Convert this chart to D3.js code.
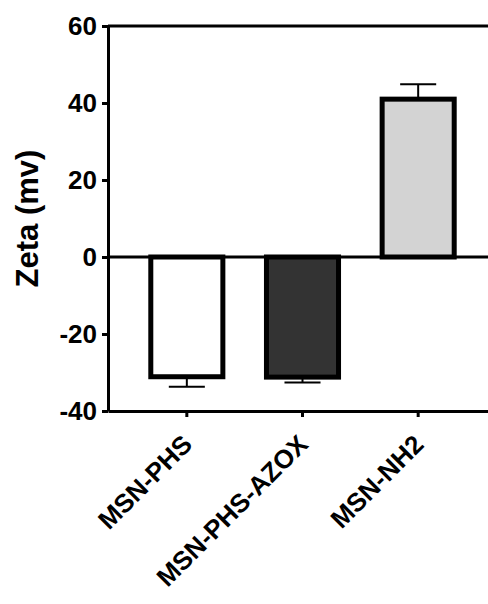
<!DOCTYPE html>
<html>
<head>
<meta charset="utf-8">
<script src="https://cdn.jsdelivr.net/npm/d3@7"></script>
<style>
  body { margin: 0; background: #fff; }
  svg { display: block; font-family: "Liberation Sans", Arial, sans-serif; font-weight: bold; }
  .axis path, .axis line { stroke: #000; stroke-width: 3; }
  .axis text { fill: #000; font-size: 26px; font-weight: bold; }
</style>
</head>
<body>
<div id="chart"></div>
<script>
var categories = ["MSN-PHS", "MSN-PHS-AZOX", "MSN-NH2"];
var means = [-31.1, -31.2, 41.0];
var errors = [2.6, 1.4, 3.9];
var fills = ["#ffffff", "#333333", "#d3d3d3"];
var yTicks = [-40, -20, 0, 20, 40, 60];

var width = 488, height = 604;
var plotLeft = 108, plotRight = 497, plotTop = 26, plotBottom = 411;

var svg = d3.select("#chart").append("svg")
    .attr("width", width)
    .attr("height", height);

var x = d3.scaleBand()
    .domain(categories)
    .range([plotLeft, plotRight])
    .paddingInner(0.377)
    .paddingOuter(0.37);

var y = d3.scaleLinear()
    .domain([-40, 60])
    .range([plotBottom, plotTop]);

var data = categories.map(function (c, i) {
    return { name: c, value: means[i], err: errors[i], fill: fills[i] };
});

// frame line at the top
svg.append("line")
    .attr("x1", plotLeft).attr("x2", plotRight)
    .attr("y1", y(60)).attr("y2", y(60))
    .attr("stroke", "#000").attr("stroke-width", 3);

// error bars (outward only)
var eb = svg.selectAll(".err")
    .data(data)
  .enter().append("g")
    .attr("class", "err")
    .attr("stroke", "#000")
    .attr("stroke-width", 2);

eb.append("line")
    .attr("x1", function (d) { return x(d.name) + x.bandwidth() / 2; })
    .attr("x2", function (d) { return x(d.name) + x.bandwidth() / 2; })
    .attr("y1", function (d) { return y(d.value); })
    .attr("y2", function (d) { return y(d.value + Math.sign(d.value) * d.err); });

eb.append("line")
    .attr("x1", function (d) { return x(d.name) + x.bandwidth() * 0.25; })
    .attr("x2", function (d) { return x(d.name) + x.bandwidth() * 0.75; })
    .attr("y1", function (d) { return y(d.value + Math.sign(d.value) * d.err); })
    .attr("y2", function (d) { return y(d.value + Math.sign(d.value) * d.err); });

// bars
svg.selectAll(".bar")
    .data(data)
  .enter().append("rect")
    .attr("class", "bar")
    .attr("x", function (d) { return x(d.name); })
    .attr("width", x.bandwidth())
    .attr("y", function (d) { return y(Math.max(0, d.value)); })
    .attr("height", function (d) { return Math.abs(y(d.value) - y(0)); })
    .attr("fill", function (d) { return d.fill; })
    .attr("stroke", "#000")
    .attr("stroke-width", 5);

// zero line
svg.append("line")
    .attr("x1", plotLeft).attr("x2", plotRight)
    .attr("y1", y(0)).attr("y2", y(0))
    .attr("stroke", "#000").attr("stroke-width", 3);

// y axis
svg.append("g")
    .attr("class", "axis")
    .attr("transform", "translate(" + plotLeft + ",0)")
    .call(d3.axisLeft(y).tickValues(yTicks).tickSize(6).tickPadding(5).tickSizeOuter(0)
        .tickFormat(function (d) { return String(d); }));

// x axis
var xAxis = svg.append("g")
    .attr("class", "axis")
    .attr("transform", "translate(0," + plotBottom + ")")
    .call(d3.axisBottom(x).tickSize(6).tickSizeOuter(0));

xAxis.selectAll("text")
    .attr("text-anchor", "end")
    .attr("font-size", "29px")
    .attr("dy", null)
    .attr("y", null)
    .attr("transform", "translate(7,35) rotate(-45)");

// y label
svg.append("text")
    .attr("transform", "translate(38," + ((plotTop + plotBottom) / 2) + ") rotate(-90)")
    .attr("text-anchor", "middle")
    .attr("font-size", "31px")
    .attr("fill", "#000")
    .text("Zeta (mv)");
</script>
</body>
</html>
